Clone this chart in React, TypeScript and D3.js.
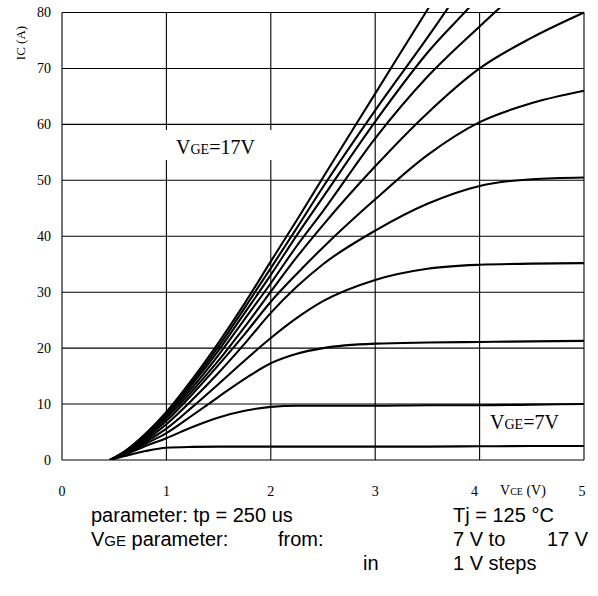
import React, { useEffect, useRef } from 'react';
import * as d3 from 'd3';

// VCE sample points (V)
const vce = [0.46, 0.6, 0.8, 1.0, 1.25, 1.5, 1.75, 2.0, 2.25, 2.5, 3.0, 3.5, 4.0, 4.5, 5.0];

// IC (A) per gate voltage
const ic7 = [0, 0.7, 1.6, 2.2, 2.35, 2.4, 2.4, 2.4, 2.4, 2.4, 2.4, 2.4, 2.45, 2.5, 2.5];
const ic8 = [0, 0.9, 2.5, 3.9, 5.9, 7.6, 8.8, 9.5, 9.7, 9.7, 9.7, 9.8, 9.8, 9.9, 10.0];
const ic9 = [0, 1.0, 2.9, 4.8, 8.0, 11.3, 14.5, 17.3, 19.0, 20.0, 20.8, 21.0, 21.1, 21.2, 21.3];
const ic10 = [0, 1.1, 3.2, 5.6, 9.5, 13.6, 17.8, 21.8, 25.4, 28.4, 32.2, 34.2, 34.9, 35.1, 35.2];
const ic11 = [0, 1.2, 3.5, 6.4, 10.8, 15.6, 20.8, 26.3, 31.0, 35.0, 41.0, 45.8, 49.0, 50.2, 50.5];
const ic12 = [0, 1.3, 3.8, 7.0, 11.8, 17.0, 22.5, 28.3, 33.3, 38.0, 46.6, 54.5, 60.4, 63.8, 66.0];
const ic13 = [0, 1.35, 4.1, 7.5, 12.4, 17.8, 23.8, 30.1, 36.3, 42.0, 52.5, 62.0, 70.0, 75.5, 80.0];
const ic14 = [0, 1.4, 4.3, 7.9, 13.0, 18.8, 25.2, 31.6, 38.3, 44.5, 57.5, 68.5, 77.5, 86, 94];
const ic15 = [0, 1.45, 4.5, 8.2, 13.6, 19.6, 26.3, 33.1, 40.2, 47.0, 60.5, 72.8, 83, 95, 106];
const ic16 = [0, 1.5, 4.6, 8.4, 14.0, 20.3, 27.2, 34.3, 41.5, 48.8, 62.5, 75.5, 89, 102, 115];
const ic17 = [0, 1.55, 4.7, 8.6, 14.5, 21.0, 28.0, 35.5, 42.9, 50.5, 65.5, 80.5, 95, 109, 123];

const series = [ic7, ic8, ic9, ic10, ic11, ic12, ic13, ic14, ic15, ic16, ic17];

const xTicks = [0, 1, 2, 3, 4, 5];
const yTicks = [0, 10, 20, 30, 40, 50, 60, 70, 80];

const serif = "'Liberation Serif', 'Times New Roman', serif";
const sans = "'Liberation Sans', Arial, sans-serif";

const App = () => {
  const svgRef = useRef(null);

  useEffect(() => {
    const W = 598;
    const H = 596;
    const svg = d3.select(svgRef.current);
    svg.selectAll('*').remove();
    svg.attr('width', W).attr('height', H);

    svg.append('rect').attr('width', W).attr('height', H).attr('fill', '#fff');

    const x = d3.scaleLinear().domain([0, 5]).range([62, 584]);
    const y = d3.scaleLinear().domain([0, 80]).range([460, 12.5]);

    // grid
    const grid = svg.append('g').attr('stroke', '#000').attr('stroke-width', 1.1);
    grid.selectAll('line.h')
      .data(yTicks)
      .enter()
      .append('line')
      .attr('x1', x(0))
      .attr('x2', x(5))
      .attr('y1', d => y(d))
      .attr('y2', d => y(d));
    grid.selectAll('line.v')
      .data(xTicks)
      .enter()
      .append('line')
      .attr('x1', d => x(d))
      .attr('x2', d => x(d))
      .attr('y1', y(0))
      .attr('y2', y(80));

    // white box behind the 17V label
    svg.append('rect')
      .attr('x', 158)
      .attr('y', 130)
      .attr('width', 120)
      .attr('height', 30)
      .attr('fill', '#fff');

    // curves
    svg.append('defs')
      .append('clipPath')
      .attr('id', 'plot-clip')
      .append('rect')
      .attr('x', x(0))
      .attr('y', 8)
      .attr('width', x(5) - x(0) + 2)
      .attr('height', y(0) - 8);

    const line = d3.line()
      .x((d, i) => x(vce[i]))
      .y(d => y(d))
      .curve(d3.curveMonotoneX);

    svg.append('g')
      .attr('clip-path', 'url(#plot-clip)')
      .selectAll('path')
      .data(series)
      .enter()
      .append('path')
      .attr('d', d => line(d))
      .attr('fill', 'none')
      .attr('stroke', '#000')
      .attr('stroke-width', 2.1);

    // y tick labels
    svg.append('g')
      .selectAll('text')
      .data(yTicks)
      .enter()
      .append('text')
      .attr('x', 51)
      .attr('y', d => y(d))
      .attr('dy', '0.35em')
      .attr('text-anchor', 'end')
      .attr('font-family', serif)
      .attr('font-size', 14)
      .text(d => d);

    // x tick labels
    svg.append('g')
      .selectAll('text')
      .data(xTicks)
      .enter()
      .append('text')
      .attr('x', d => (d === 4 ? x(d) - 5 : d === 5 ? x(d) - 2 : x(d)))
      .attr('y', 496)
      .attr('text-anchor', 'middle')
      .attr('font-family', serif)
      .attr('font-size', 14)
      .text(d => d);

    // axis titles
    svg.append('text')
      .attr('transform', 'translate(25,43) rotate(-90)')
      .attr('text-anchor', 'middle')
      .attr('font-family', serif)
      .attr('font-size', 13)
      .text('IC (A)');

    const vceLabel = svg.append('text')
      .attr('x', 500)
      .attr('y', 495)
      .attr('font-family', serif)
      .attr('font-size', 14);
    vceLabel.append('tspan').text('V');
    vceLabel.append('tspan').attr('font-size', 10).text('CE');
    vceLabel.append('tspan').text(' (V)');

    // curve labels
    const gateLabel = (lx, ly, v) => {
      const t = svg.append('text')
        .attr('x', lx)
        .attr('y', ly)
        .attr('font-family', serif)
        .attr('font-size', 20);
      t.append('tspan').text('V');
      t.append('tspan').attr('font-size', 14).text('GE');
      t.append('tspan').text(`=${v}V`);
    };
    gateLabel(176, 154, 17);
    gateLabel(490, 429, 7);

    // notes below the chart
    const note = (tx, ty, parts) => {
      const t = svg.append('text')
        .attr('x', tx)
        .attr('y', ty)
        .attr('font-family', sans)
        .attr('font-size', 20);
      parts.forEach(p => {
        const s = t.append('tspan').text(p[0]);
        if (p[1]) s.attr('font-size', p[1]);
      });
    };
    note(91, 522, [['parameter: tp = 250 us']]);
    note(453, 522, [['Tj = 125 °C']]);
    note(91, 546, [['V'], ['GE', 15], [' parameter:']]);
    note(278, 546, [['from:']]);
    note(453, 546, [['7 V to']]);
    note(547, 546, [['17 V']]);
    note(363, 570, [['in']]);
    note(453, 570, [['1 V steps']]);
  }, []);

  return (
    <svg ref={svgRef} style={{ position: 'absolute', left: 0, top: 0 }}></svg>
  );
};

export default App;
